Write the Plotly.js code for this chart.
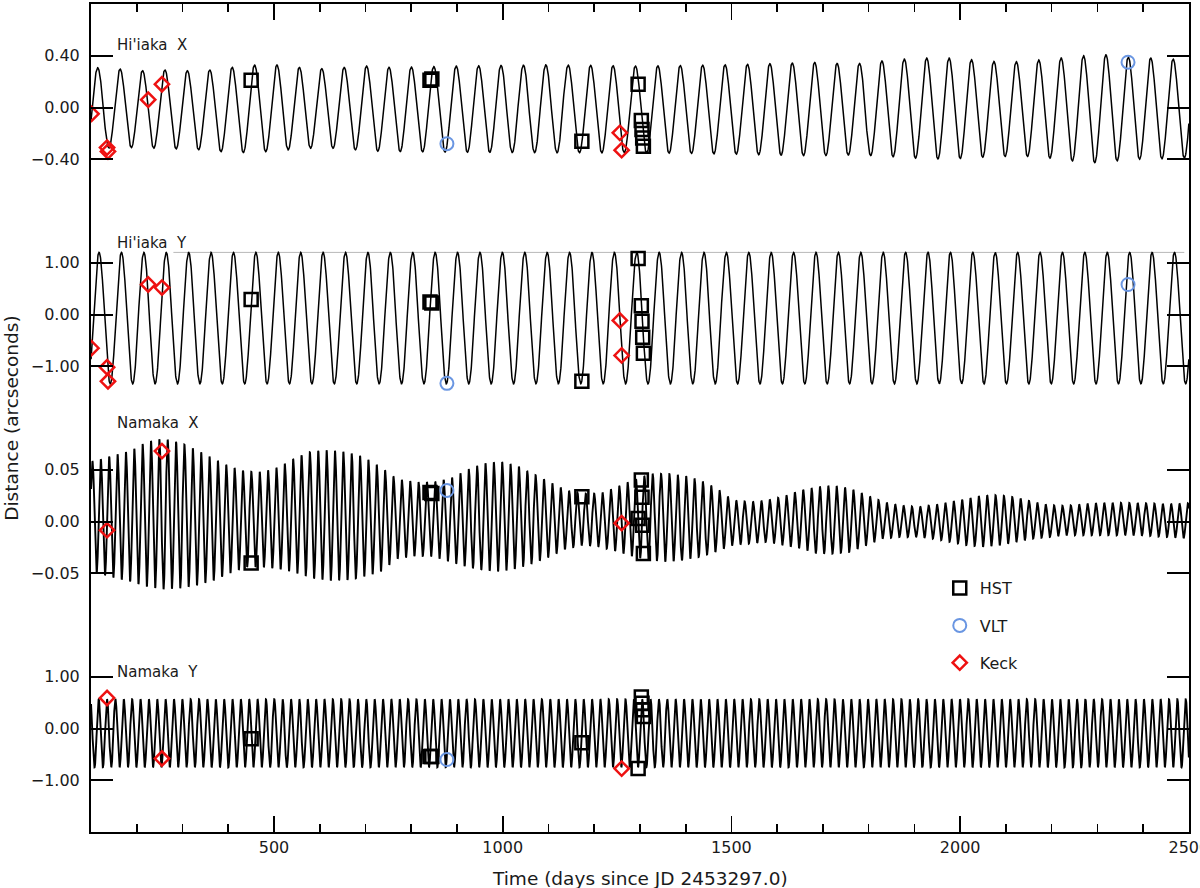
<!DOCTYPE html>
<html><head><meta charset="utf-8">
<script src="https://cdn.plot.ly/plotly-3.0.1.min.js"></script>
<style>html,body{margin:0;padding:0;background:#fff}#chart{width:1200px;height:888px}</style>
</head><body><div id="chart"></div>
<script>
// ---------------- data ----------------
// Observation epochs (days since JD 2453297.0)
const hstDays  = [450, 841, 845, 1173, 1296, 1303, 1304.5, 1306, 1307.5];
const vltDays  = [878, 2367];
const keckDays = [101, 135, 137, 225, 255, 1256, 1260];

// Observed offsets (arcsec), one array per panel (null = not observed)
const hstHiiakaX  = [0.21, 0.21, 0.22, -0.26, 0.18, -0.10, -0.17, -0.235, -0.30];
const hstHiiakaY  = [0.29, 0.24, 0.22, -1.29, 1.08, 0.17, -0.13, -0.44, -0.75];
const hstNamakaX  = [-0.040, 0.028, 0.027, 0.024, 0.003, 0.040, 0.0235, -0.0036, -0.031];
const hstNamakaY  = [-0.20, -0.54, -0.54, -0.275, -0.775, 0.61, 0.49, 0.36, 0.23];

const vltHiiakaX  = [-0.28, 0.35];
const vltHiiakaY  = [-1.33, 0.58];
const vltNamakaX  = [0.030, null];
const vltNamakaY  = [-0.60, null];

const keckHiiakaX = [-0.049, -0.31, -0.34, 0.06, 0.18, -0.196, -0.33];
const keckHiiakaY = [-0.65, -1.02, -1.29, 0.58, 0.52, -0.115, -0.79];
const keckNamakaX = [null, -0.0084, null, null, 0.068, null, -0.0016];
const keckNamakaY = [null, 0.59, null, null, -0.58, null, -0.775];

// Model orbit: period / epoch of maximum, envelope
const hiiakaPeriod = 48.98;
const hiiakaXMaxDay = 114.6;
const hiiakaYMaxDay = 117.5;
const namakaPeriod = 18.28;
const namakaXMaxDay = 139.6;
const namakaYMaxDay = 135.0;

const hiiakaXEnvDays  = [100, 163, 213, 262, 312, 360, 408, 458, 507, 555, 605, 653, 703, 752, 900, 1100, 1300, 1500, 1682, 1731, 1781, 1829, 1877, 1927, 1975, 2025, 2074, 2124, 2172, 2220, 2270, 2318, 2367, 2417, 2465, 2500];
const hiiakaXEnvUpper = [0.31, 0.297, 0.284, 0.29, 0.284, 0.29, 0.31, 0.328, 0.328, 0.31, 0.30, 0.31, 0.32, 0.31, 0.32, 0.33, 0.32, 0.33, 0.348, 0.34, 0.34, 0.36, 0.374, 0.382, 0.382, 0.369, 0.356, 0.354, 0.367, 0.382, 0.40, 0.408, 0.388, 0.382, 0.374, 0.37];
const hiiakaXEnvLower = [-0.32, -0.31, -0.31, -0.32, -0.32, -0.335, -0.348, -0.348, -0.335, -0.32, -0.31, -0.32, -0.335, -0.34, -0.345, -0.35, -0.35, -0.36, -0.374, -0.368, -0.368, -0.374, -0.387, -0.395, -0.40, -0.387, -0.382, -0.374, -0.382, -0.40, -0.426, -0.426, -0.40, -0.40, -0.392, -0.39];

const hiiakaYEnvDays  = [100, 2500];
const hiiakaYEnvUpper = [1.20, 1.20];
const hiiakaYEnvLower = [-1.34, -1.34];

const namakaXEnvDays  = [100, 113, 148, 185, 222, 257, 295, 332, 367, 404, 441, 476, 513, 550, 585, 622, 660, 695, 732, 769, 813, 848, 885, 922, 957, 994, 1031, 1066, 1103, 1140, 1175, 1213, 1250, 1285, 1322, 1359, 1394, 1431, 1468, 1503, 1540, 1578, 1613, 1650, 1687, 1722, 1759, 1796, 1831, 1868, 1905, 1940, 1978, 2015, 2050, 2087, 2124, 2159, 2196, 2233, 2268, 2305, 2343, 2378, 2415, 2452, 2487, 2500];
const namakaXEnvUpper = [0.058, 0.059, 0.064, 0.068, 0.077, 0.080, 0.076, 0.069, 0.061, 0.053, 0.048, 0.048, 0.053, 0.0625, 0.068, 0.069, 0.067, 0.0625, 0.053, 0.041, 0.038, 0.038, 0.0416, 0.050, 0.056, 0.058, 0.054, 0.046, 0.038, 0.030, 0.027, 0.027, 0.0335, 0.040, 0.046, 0.046, 0.0448, 0.040, 0.032, 0.0206, 0.019, 0.0206, 0.024, 0.030, 0.0335, 0.035, 0.032, 0.0254, 0.019, 0.0158, 0.014, 0.0158, 0.019, 0.022, 0.0254, 0.0254, 0.023, 0.019, 0.0158, 0.015, 0.017, 0.018, 0.018, 0.018, 0.0175, 0.017, 0.0175, 0.0175];
const namakaXEnvLower = [-0.049, -0.050, -0.054, -0.058, -0.063, -0.0655, -0.0645, -0.0615, -0.057, -0.050, -0.044, -0.044, -0.046, -0.050, -0.055, -0.057, -0.0565, -0.0535, -0.049, -0.036, -0.033, -0.034, -0.039, -0.044, -0.047, -0.0486, -0.0455, -0.0406, -0.034, -0.026, -0.023, -0.0245, -0.029, -0.034, -0.0374, -0.039, -0.0374, -0.034, -0.029, -0.023, -0.0213, -0.0197, -0.023, -0.026, -0.031, -0.031, -0.0294, -0.023, -0.0165, -0.015, -0.015, -0.0165, -0.0197, -0.023, -0.0245, -0.023, -0.0197, -0.0165, -0.015, -0.0133, -0.0133, -0.0133, -0.0133, -0.0133, -0.014, -0.015, -0.016, -0.016];

const namakaYEnvDays  = [100, 2500];
const namakaYEnvUpper = [0.565, 0.565];
const namakaYEnvLower = [-0.75, -0.75];

// faint plotting artefact visible in the Hi'iaka Y panel
const hiiakaYArtefactDays = [280, 2490];
const hiiakaYArtefactVals = [1.20, 1.20];

// axis tick labels
const xTickVals = [500, 1000, 1500, 2000, 2500];
const xTickText = ['500', '1000', '1500', '2000', '2500'];
const hiiakaXTickVals = [-0.8, -0.4, 0, 0.4, 0.8];
const hiiakaXTickText = ['', '\u22120.40', '0.00', '0.40', ''];
const hiiakaYTickVals = [-2, -1, 0, 1, 2];
const hiiakaYTickText = ['', '\u22121.00', '0.00', '1.00', ''];
const namakaXTickVals = [-0.1, -0.05, 0, 0.05, 0.1];
const namakaXTickText = ['', '\u22120.05', '0.00', '0.05', ''];
const namakaYTickVals = [-2, -1, 0, 1, 2];
const namakaYTickText = ['', '\u22121.00', '0.00', '1.00', ''];

const panelLabels = ['Hi\'iaka\u00a0 X', 'Hi\'iaka\u00a0 Y', 'Namaka\u00a0 X', 'Namaka\u00a0 Y'];

// ---------------- model curve construction ----------------
function interp(xs, ys, t) {
  if (t <= xs[0]) return ys[0];
  for (let i = 1; i < xs.length; i++) {
    if (t <= xs[i]) {
      const f = (t - xs[i - 1]) / (xs[i] - xs[i - 1]);
      return ys[i - 1] + f * (ys[i] - ys[i - 1]);
    }
  }
  return ys[ys.length - 1];
}
function orbitCurve(period, maxDay, envDays, envUp, envLo, step) {
  const xs = [], ys = [];
  for (let t = 100; t <= 2500.0001; t += step) {
    const u = interp(envDays, envUp, t), l = interp(envDays, envLo, t);
    xs.push(t);
    ys.push((u + l) / 2 + (u - l) / 2 * Math.cos(2 * Math.PI * (t - maxDay) / period));
  }
  return {x: xs, y: ys};
}

const FONT = 'DejaVu Sans, Liberation Sans, sans-serif';
const TXT = '#1a1a1a';

const panels = [
  {ax: 'y',  w: 1.5, curve: orbitCurve(hiiakaPeriod, hiiakaXMaxDay, hiiakaXEnvDays, hiiakaXEnvUpper, hiiakaXEnvLower, 0.5),
   hst: hstHiiakaX, vlt: vltHiiakaX, keck: keckHiiakaX},
  {ax: 'y2', w: 1.5, curve: orbitCurve(hiiakaPeriod, hiiakaYMaxDay, hiiakaYEnvDays, hiiakaYEnvUpper, hiiakaYEnvLower, 0.5),
   hst: hstHiiakaY, vlt: vltHiiakaY, keck: keckHiiakaY},
  {ax: 'y3', w: 1.9, curve: orbitCurve(namakaPeriod, namakaXMaxDay, namakaXEnvDays, namakaXEnvUpper, namakaXEnvLower, 0.25),
   hst: hstNamakaX, vlt: vltNamakaX, keck: keckNamakaX},
  {ax: 'y4', w: 1.9, curve: orbitCurve(namakaPeriod, namakaYMaxDay, namakaYEnvDays, namakaYEnvUpper, namakaYEnvLower, 0.25),
   hst: hstNamakaY, vlt: vltNamakaY, keck: keckNamakaY}
];

const traces = [];
traces.push({x: hiiakaYArtefactDays, y: hiiakaYArtefactVals, xaxis: 'x', yaxis: 'y2', mode: 'lines',
  line: {color: '#b8b8b8', width: 1}, showlegend: false, hoverinfo: 'skip'});
panels.forEach(p => {
  traces.push({x: p.curve.x, y: p.curve.y, xaxis: 'x', yaxis: p.ax, mode: 'lines',
    line: {color: '#000', width: p.w}, showlegend: false, hoverinfo: 'skip'});
});
panels.forEach((p, i) => {
  traces.push({x: hstDays, y: p.hst, xaxis: 'x', yaxis: p.ax, mode: 'markers', name: 'HST',
    legendgroup: 'hst', showlegend: i === 0,
    marker: {symbol: 'square-open', size: 13, color: '#000', line: {width: 2.5, color: '#000'}}});
  traces.push({x: vltDays, y: p.vlt, xaxis: 'x', yaxis: p.ax, mode: 'markers', name: 'VLT',
    legendgroup: 'vlt', showlegend: i === 0,
    marker: {symbol: 'circle-open', size: 13, color: '#6a96e2', line: {width: 2, color: '#6a96e2'}}});
  traces.push({x: keckDays, y: p.keck, xaxis: 'x', yaxis: p.ax, mode: 'markers', name: 'Keck',
    legendgroup: 'keck', showlegend: i === 0,
    marker: {symbol: 'diamond-open', size: 11, color: '#ee1111', line: {width: 2.5, color: '#ee1111'}}});
});
// carrier for the mirrored top x axis
traces.push({x: [null], y: [null], xaxis: 'x2', yaxis: 'y', mode: 'markers', showlegend: false, hoverinfo: 'skip'});

function yAxis(domain, range, vals, text) {
  return {domain: domain, range: range, anchor: 'x', showgrid: false, zeroline: false,
    showline: true, mirror: 'ticks', linecolor: '#000', linewidth: 2,
    ticks: 'inside', ticklen: 22, tickwidth: 2, tickcolor: '#000',
    tickmode: 'array', tickvals: vals, ticktext: text, ticklabelstandoff: 6,
    tickfont: {family: FONT, size: 16, color: TXT}, fixedrange: true};
}
const xCommon = {range: [99.9, 2500.3], showgrid: false, zeroline: false, showline: true,
  linecolor: '#000', linewidth: 2, ticks: 'inside', ticklen: 16, tickwidth: 1.6, tickcolor: '#000',
  tickmode: 'array', tickvals: xTickVals, ticktext: xTickText, ticklabeloverflow: 'allow',
  minor: {tickmode: 'linear', tick0: 0, dtick: 100, ticks: 'inside', ticklen: 8, tickwidth: 1.6, tickcolor: '#000', showgrid: false},
  tickfont: {family: FONT, size: 16, color: TXT}, fixedrange: true};

const annotations = panelLabels.map((t, i) => ({
  text: t, xref: 'paper', x: 0.022, xanchor: 'left',
  yref: ['y', 'y2', 'y3', 'y4'][i], y: [0.48, 1.39, 0.095, 1.085][i], yanchor: 'middle',
  showarrow: false, font: {family: FONT, size: 15, color: TXT}
}));
annotations.push({text: 'Time (days since JD 2453297.0)', xref: 'paper', yref: 'paper', x: 0.5, y: -0.0556,
  xanchor: 'center', yanchor: 'middle', showarrow: false, font: {family: FONT, size: 18.5, color: TXT}});
annotations.push({text: 'Distance (arcseconds)', xref: 'paper', yref: 'paper', x: -0.073, y: 0.5,
  xanchor: 'center', yanchor: 'middle', textangle: -90, showarrow: false, font: {family: FONT, size: 18.5, color: TXT}});

const layout = {
  width: 1200, height: 888,
  margin: {l: 91, r: 11, t: 4, b: 56, pad: 0},
  paper_bgcolor: '#fff', plot_bgcolor: 'rgba(0,0,0,0)',
  xaxis: Object.assign({}, xCommon, {anchor: 'y4', domain: [0, 1]}),
  xaxis2: Object.assign({}, xCommon, {overlaying: 'x', anchor: 'y', side: 'top', showticklabels: false}),
  yaxis:  yAxis([0.75, 1.0], [-0.8, 0.8], hiiakaXTickVals, hiiakaXTickText),
  yaxis2: yAxis([0.5, 0.75], [-2, 2], hiiakaYTickVals, hiiakaYTickText),
  yaxis3: yAxis([0.25, 0.5], [-0.1, 0.1], namakaXTickVals, namakaXTickText),
  yaxis4: yAxis([0.0, 0.25], [-2, 2], namakaYTickVals, namakaYTickText),
  showlegend: true,
  legend: {x: 0.773, y: 0.315, xanchor: 'left', yanchor: 'top', bgcolor: 'rgba(0,0,0,0)',
    font: {family: FONT, size: 16, color: TXT}, tracegroupgap: 13.5, itemwidth: 30},
  annotations: annotations,
  hovermode: false
};

Plotly.newPlot('chart', traces, layout, {staticPlot: true, displayModeBar: false});
</script></body></html>
